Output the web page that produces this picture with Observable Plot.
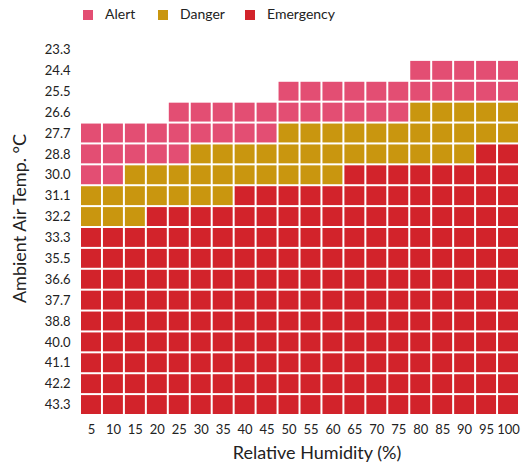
<!DOCTYPE html>
<html>
<head>
<meta charset="utf-8">
<script src="https://cdn.jsdelivr.net/npm/d3@7"></script>
<script src="https://cdn.jsdelivr.net/npm/@observablehq/plot@0.6"></script>
<style>
  body { margin: 0; background: #fff; font-family: Lato, sans-serif; }
  #legend { position: relative; height: 30px; width: 521px; font-size: 14px; color: #222; }
  #legend .sw { position: absolute; top: 10px; width: 10px; height: 10px; }
  #legend .lb { position: absolute; top: 5px; line-height: 18px; }
</style>
</head>
<body>
<div id="legend"></div>
<div id="chart"></div>
<script>
const humidity = [5, 10, 15, 20, 25, 30, 35, 40, 45, 50, 55, 60, 65, 70, 75, 80, 85, 90, 95, 100];
const temps = ["23.3", "24.4", "25.5", "26.6", "27.7", "28.8", "30.0", "31.1", "32.2", "33.3",
               "35.5", "36.6", "37.7", "38.8", "40.0", "41.1", "42.2", "43.3"];
// For each humidity column: index (in temps) of the first row of each level
const alertFrom     = [4, 4, 4, 4, 3, 3, 3, 3, 3, 2, 2, 2, 2, 2, 2, 1, 1, 1, 1, 1];
const dangerFrom    = [7, 7, 6, 6, 6, 5, 5, 5, 5, 4, 4, 4, 4, 4, 4, 3, 3, 3, 3, 3];
const emergencyFrom = [9, 9, 9, 8, 8, 8, 8, 7, 7, 7, 7, 7, 6, 6, 6, 6, 6, 6, 5, 5];
const levels = ["Alert", "Danger", "Emergency"];
const colors = ["#E34E73", "#C9960F", "#D2232B"];

// legend
const legend = document.getElementById("legend");
const legendPos = [[83, 105], [158, 180], [245, 267]];
levels.forEach((l, i) => {
  const sw = document.createElement("span");
  sw.className = "sw"; sw.style.left = legendPos[i][0] + "px"; sw.style.background = colors[i];
  const lb = document.createElement("span");
  lb.className = "lb"; lb.style.left = legendPos[i][1] + "px"; lb.textContent = l;
  legend.appendChild(sw); legend.appendChild(lb);
});

const cells = humidity.flatMap((h, c) => temps.map((t, r) => {
  let level = null;
  if (r >= emergencyFrom[c]) level = "Emergency";
  else if (r >= dangerFrom[c]) level = "Danger";
  else if (r >= alertFrom[c]) level = "Alert";
  return {h, t, level};
})).filter(d => d.level);

const chart = Plot.plot({
  width: 521,
  height: 433,
  marginTop: 9,
  marginBottom: 48,
  marginLeft: 80,
  marginRight: 2,
  style: {fontFamily: "Lato, sans-serif", fontSize: "13px", color: "#222", background: "#fff"},
  x: {type: "band", domain: humidity, padding: 0, round: false, label: null, tickSize: 0, tickPadding: 9},
  y: {type: "band", domain: temps, padding: 0, round: false, label: null, tickSize: 0, tickPadding: 10},
  color: {domain: levels, range: colors},
  marks: [
    Plot.cell(cells, {x: "h", y: "t", fill: "level", inset: 1}),
    Plot.text(["Relative Humidity (%)"], {frameAnchor: "bottom", textAnchor: "middle", lineAnchor: "middle", dx: 17, dy: 38, fontSize: 18, fill: "#222"}),
    Plot.text(["Ambient Air Temp. °C"], {frameAnchor: "left", textAnchor: "middle", lineAnchor: "middle", dx: -60, dy: -9, rotate: -90, fontSize: 18, fill: "#222"})
  ]
});
document.getElementById("chart").appendChild(chart);
</script>
</body>
</html>
